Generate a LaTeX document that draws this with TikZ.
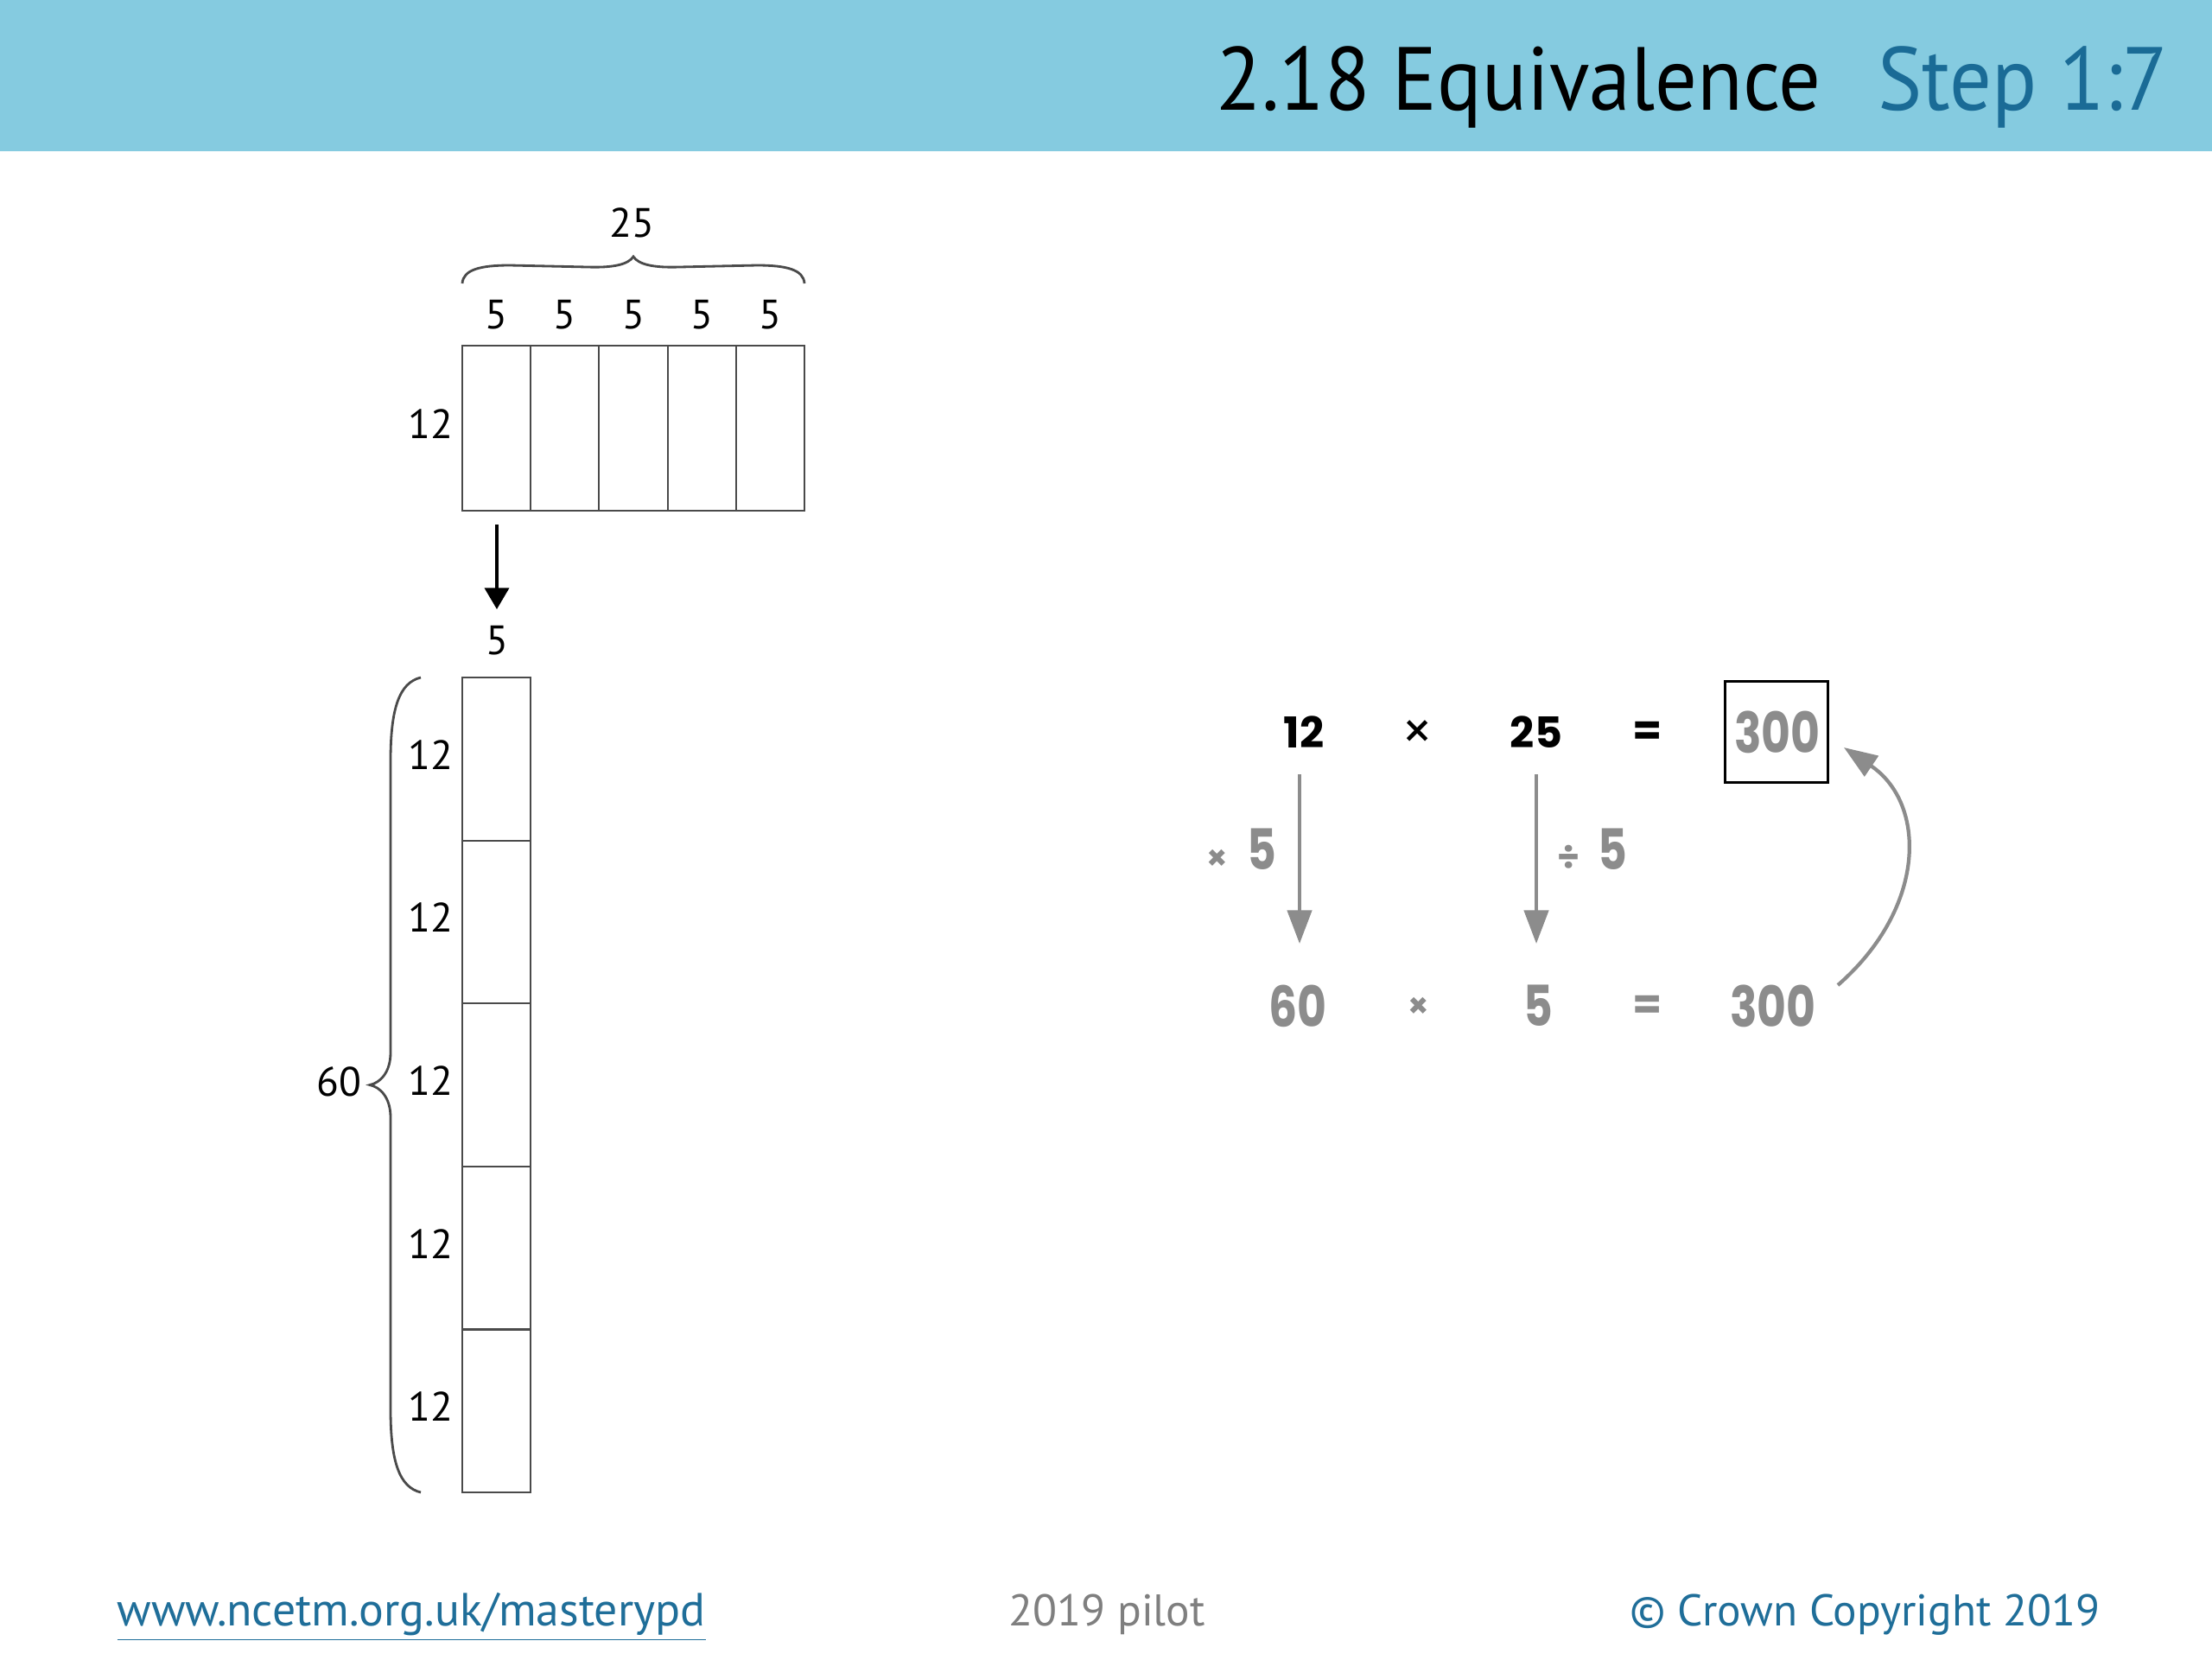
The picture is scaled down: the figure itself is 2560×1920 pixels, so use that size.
\documentclass[tikz,border=0pt]{standalone}
\usepackage{fontspec}
\setmainfont{PT Sans}
\newfontfamily\eqfont{Poppins}
\usetikzlibrary{arrows.meta}
\definecolor{headblue}{HTML}{85CBE0}
\definecolor{stepblue}{HTML}{1A6B96}
\definecolor{linkblue}{HTML}{1F6E99}
\definecolor{eqgray}{HTML}{8C8C8C}
\definecolor{pilotgray}{HTML}{7F7F7F}
\definecolor{cellline}{HTML}{4A4A4A}
\newcommand{\gnum}[1]{\scalebox{0.8}[1]{#1}}
\begin{document}
\begin{tikzpicture}[x=0.01cm,y=-0.01cm,
  cell/.style={draw=cellline, line width=0.6pt, inner sep=0pt, outer sep=0pt, minimum width=0.792cm},
  toplbl/.style={font=\fontsize{13.5}{16}\selectfont, text=black, inner sep=0pt},
  bracepath/.style={draw=cellline, line width=0.8pt},
  eqblack/.style={font=\eqfont\bfseries\fontsize{14}{16}\selectfont, text=black, inner sep=0pt},
  eqgrey/.style={font=\eqfont\bfseries\fontsize{18.5}{20}\selectfont, text=eqgray, inner sep=0pt},
  grayarrow/.style={draw=eqgray, line width=1.2pt, -{Triangle[length=11pt,width=8pt]}},
  footer/.style={font=\fontsize{14.6}{17}\selectfont, inner sep=0pt, anchor=base west}
]
\useasboundingbox (0,0) rectangle (2560,1920);
\fill[white] (0,0) rectangle (2560,1920);
\fill[headblue] (0,0) rectangle (2560,175);

% title
\node[anchor=base west, inner sep=0pt, font=\fontsize{29.5}{34}\selectfont, text=black] (title) at (1407,127) {\scalebox{0.93}[1]{2.18 Equivalence}};
\node[anchor=base east, inner sep=0pt, font=\fontsize{29.5}{34}\selectfont, text=stepblue] (step) at (2510,127) {\scalebox{0.93}[1]{Step 1:7}};

% top area model
\foreach \i/\x in {1/574.6,2/653.8,3/733,4/812.2,5/891.4}{
  \node[cell, minimum height=1.91cm] (t\i) at (\x,495.5) {};
  \node[toplbl] (f\i) at (\x,364) {5};
}
\node[toplbl] (top12) at (498,491) {12};
\node[toplbl] (l25) at (731,258) {25};
\path[bracepath] (535,328) .. controls (536,312) and (556,307) .. (590,307) -- (680,309) .. controls (710,310) and (727,306) .. (733,297)
  .. controls (739,306) and (756,310) .. (786,309) -- (876,307) .. controls (910,307) and (930,312) .. (931,328);

% arrow down
\coordinate (a1) at (575,607);
\coordinate (a2) at (575,705);
\draw[line width=0.9pt, black, -{Triangle[length=7pt,width=8pt]}] (a1) -- (a2);
\node[toplbl] (f6) at (575,741) {5};

% tall bar
\foreach \i/\y in {1/878.3,2/1066.9,3/1255.5,4/1444.1,5/1632.7}{
  \node[cell, minimum height=1.886cm] (b\i) at (574.5,\y) {};
  \node[toplbl] (d\i) at (498,\y-5) {12};
}
\node[toplbl] (l60) at (392,1252) {60};
\path[bracepath] (487,784) .. controls (462,790) and (452,820) .. (452,880) -- (452,1218) .. controls (452,1241) and (440,1253) .. (428,1255.5)
  .. controls (440,1258) and (452,1270) .. (452,1293) -- (452,1631) .. controls (452,1691) and (462,1721) .. (487,1727);

% equations row 1
\node[eqblack] (e12) at (1509,847) {12};
\node[eqblack, font=\eqfont\fontsize{16}{16}\selectfont] (ex1) at (1641,850) {×};
\node[eqblack] (e25) at (1778,847) {25};
\node[eqblack] (eq1) at (1907,849) {=};
\node[draw=black, line width=1pt, minimum width=1.19cm, minimum height=1.17cm, inner sep=0pt] (box) at (2056,847) {};
\node[eqgrey] (e300a) at (2057,847) {\gnum{300}};

% row 2
\node[eqgrey] (e60) at (1502,1164) {\gnum{60}};
\node[eqgrey, font=\eqfont\bfseries\fontsize{11}{12}\selectfont] (ex2) at (1642,1166) {×};
\node[eqgrey] (e5) at (1780,1164) {\gnum{5}};
\node[eqgrey, font=\eqfont\bfseries\fontsize{14}{16}\selectfont] (eq2) at (1907,1166) {=};
\node[eqgrey] (e300b) at (2052,1164) {\gnum{300}};

% arrows
\coordinate (la1) at (1504,896);
\coordinate (la2) at (1504,1092);
\coordinate (ra1) at (1778,896);
\coordinate (ra2) at (1778,1092);
\draw[grayarrow] (la1) -- (la2);
\draw[grayarrow] (ra1) -- (ra2);
\node[eqgrey] (m5) at (1437,983) {{\fontsize{11}{12}\selectfont ×}\,\,\gnum{5}};
\node[eqgrey] (d5) at (1843,983) {{\fontsize{12}{12}\selectfont ÷}\,\,\gnum{5}};
\coordinate (c1) at (2127,1140);
\coordinate (c2) at (2134,865);
\draw[grayarrow] (c1) .. controls (2230,1050) and (2230,930) .. (c2);

% footer
\node[footer, text=linkblue, font=\fontsize{15.3}{17}\selectfont] (link) at (135,1881) {\underline{www.ncetm.org.uk/masterypd}};
\node[footer, text=pilotgray] (pilot) at (1167,1881) {2019 pilot};
\node[footer, text=linkblue] (copy) at (1886,1881) {© Crown Copyright 2019};
\end{tikzpicture}
\end{document}
